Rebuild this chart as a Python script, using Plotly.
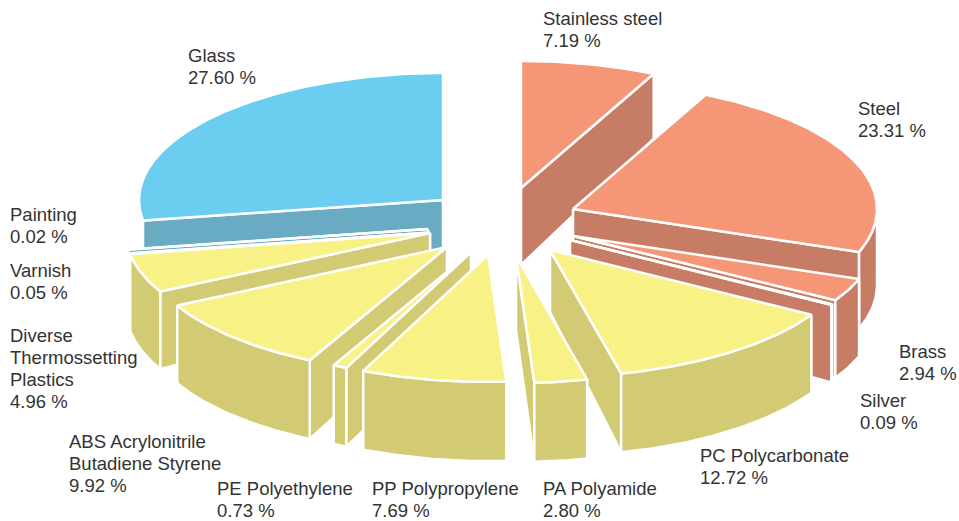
import numpy as np
import plotly.graph_objects as go

# ---- data ----
categories = ["Stainless steel", "Steel", "Brass", "Silver", "PC Polycarbonate", "PA Polyamide",
              "PP Polypropylene", "PE Polyethylene", "ABS Acrylonitrile<br>Butadiene Styrene",
              "Diverse<br>Thermossetting<br>Plastics", "Varnish", "Painting", "Glass"]
shares = [7.19, 23.31, 2.94, 0.09, 12.72, 2.80, 7.69, 0.73, 9.92, 4.96, 0.05, 0.02, 27.60]
groups = ["metal", "metal", "metal", "metal", "plastic", "plastic", "plastic", "plastic",
          "plastic", "plastic", "plastic", "glass", "glass"]

# ---- styling / layout of the exploded 3D pie ----
top_colour = {"metal": "#F59676", "plastic": "#F8F186", "glass": "#6BCEF0"}
wall_colour = {"metal": "#C77D65", "plastic": "#D3CA74", "glass": "#68ABC3"}
W, H = 959, 521
RX, RY = 304, 127
STROKE = 2.5
pull_x = [521, 573, 573, 570, 550, 516, 488, 471, 447, 430, 430, 428, 443]
pull_y = [188, 209, 236, 240, 250, 256, 255, 252, 247, 233, 232.5, 229, 200]
apex_depth = [77, 70, 70, 70, 62, 74, 70, 76, 68, 70, 70, 70, 70]
outer_wall = [True] * 12 + [False]
draw_order = [12, 0, 1, 2, 3, 4, 5, 11, 10, 9, 8, 7, 6]
label_x = [542, 857, 898, 859, 699, 542, 371, 216, 68, 9, 9, 9, 187]
label_y = [18, 108, 351, 400, 455, 488, 488, 488, 441, 335, 270, 214, 55]
LINE_GAP = 22.3

# ---- geometry derived from the shares ----
bounds = np.concatenate([[0], np.cumsum(shares)]) / sum(shares) * 360.0


def rim(ax, ay, deg):
    r = np.radians(deg)
    return ax + RX * np.sin(r), ay - RY * np.cos(r)


def rim_depth(y):
    return np.interp(y, [75, 200, 380], [65, 76, 79])


def face(fig, xs, ys, colour):
    fig.add_trace(go.Scatter(x=list(xs), y=list(ys), mode="lines", fill="toself", fillcolor=colour,
                             line=dict(color="white", width=STROKE), hoverinfo="skip", showlegend=False))


def cut_face(fig, i, deg, colour):
    ax, ay = pull_x[i], pull_y[i]
    rx, ry = rim(ax, ay, deg)
    face(fig, [ax, rx, rx, ax, ax], [ay, ry, ry + rim_depth(ry), ay + apex_depth[i], ay], colour)


fig = go.Figure()
for i in draw_order:
    a0, a1 = bounds[i], bounds[i + 1]
    ax, ay = pull_x[i], pull_y[i]
    wall = wall_colour[groups[i]]
    if 0 < a1 < 180:
        cut_face(fig, i, a1, wall)
    if 180 < a0 < 360:
        cut_face(fig, i, a0, wall)
    lo, hi = max(a0, 90), min(a1, 270)
    if hi > lo and outer_wall[i]:
        t = np.linspace(lo, hi, max(int((hi - lo) * 2), 2))
        x, y = rim(ax, ay, t)
        y2 = y + rim_depth(y)
        face(fig, np.r_[x, x[::-1], x[0]], np.r_[y, y2[::-1], y[0]], wall)
    t = np.linspace(a0, a1, max(int((a1 - a0) * 2), 2))
    x, y = rim(ax, ay, t)
    face(fig, np.r_[ax, x, ax], np.r_[ay, y, ay], top_colour[groups[i]])

for name, share, lx, ly in zip(categories, shares, label_x, label_y):
    lines = name.split("<br>") + [f"{share:.2f} %"]
    for k, line in enumerate(lines):
        fig.add_annotation(x=lx, y=ly + k * LINE_GAP, xanchor="left", yanchor="middle", align="left",
                           showarrow=False, text=line, borderpad=0,
                           font=dict(family="Liberation Sans, Arial, sans-serif", size=18.5, color="#333333"))

fig.update_xaxes(range=[0, W], visible=False, fixedrange=True)
fig.update_yaxes(range=[H, 0], visible=False, fixedrange=True)
fig.update_layout(width=W, height=H, margin=dict(l=0, r=0, t=0, b=0), paper_bgcolor="white",
                  plot_bgcolor="white", showlegend=False)
fig.write_html("out.html", config={"displayModeBar": False},
               post_script="document.body.style.margin='0';document.body.style.overflow='hidden';")
